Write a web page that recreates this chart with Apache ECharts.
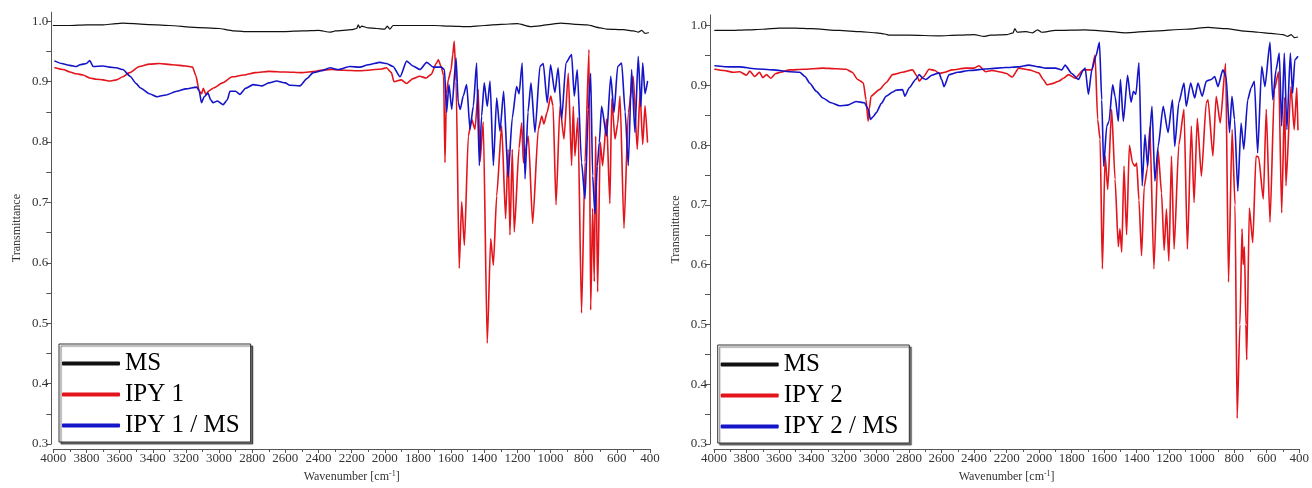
<!DOCTYPE html>
<html>
<head>
<meta charset="utf-8">
<script src="https://cdn.jsdelivr.net/npm/echarts@6/dist/echarts.min.js"></script>
<style>
html,body{margin:0;padding:0;background:#fff;}
#chart{width:1312px;height:488px;}
</style>
</head>
<body>
<div id="chart"></div>
<script>
// ---------------- DATA ----------------
const yTickValues = [0.3,0.4,0.5,0.6,0.7,0.8,0.9,1.0];
const yMinorValues = [0.3,0.35,0.4,0.45,0.5,0.55,0.6,0.65,0.7,0.75,0.8,0.85,0.9,0.95,1.0];

const leftNames = ['MS', 'IPY 1', 'IPY 1 / MS'];
const rightNames = ['MS', 'IPY 2', 'IPY 2 / MS'];

// Left panel: MS
const msLWn = [4000,3900,3800,3700,3620,3579,3450,3300,3150,3000,2930,2915,2850,2700,2600,2500,2400,2330,2312,2300,2200,2170,2160,2150,2140,2100,2050,2000,1985,1970,1950,1850,1700,1600,1500,1400,1300,1200,1120,1080,1000,940,850,780,700,660,560,500,470,450,430,410];
const msLT  = [0.993,0.993,0.994,0.994,0.996,0.997,0.995,0.993,0.990,0.988,0.985,0.984,0.983,0.983,0.983,0.984,0.985,0.982,0.983,0.984,0.986,0.988,0.994,0.989,0.992,0.989,0.988,0.987,0.992,0.987,0.993,0.993,0.993,0.992,0.991,0.993,0.995,0.996,0.991,0.992,0.995,0.997,0.995,0.994,0.989,0.987,0.986,0.984,0.982,0.985,0.980,0.981];

// Left panel: IPY 1
const ipy1Wn = [3990,3940,3900,3860,3820,3780,3740,3700,3660,3620,3580,3540,3480,3420,3360,3280,3200,3160,3140,3120,3105,3095,3080,3060,3030,2980,2920,2850,2780,2700,2600,2500,2420,2390,2320,2250,2150,2100,2020,1990,1960,1945,1900,1870,1830,1790,1750,1720,1690,1677,1660,1645,1637,1628,1617,1600,1590,1581,1570,1551,1536,1520,1496,1476,1456,1436,1426,1406,1382,1361,1345,1325,1295,1271,1256,1245,1231,1219,1190,1174,1164,1134,1108,1074,1053,1040,1020,999,985,967,943,919,893,873,863,853,835,813,792,768,758,746,736,728,716,700,686,662,642,631,611,595,581,557,531,501,477,460,444,430,415];
const ipy1T  = [0.923,0.920,0.916,0.913,0.911,0.906,0.904,0.903,0.901,0.903,0.908,0.915,0.925,0.929,0.930,0.928,0.926,0.924,0.910,0.885,0.880,0.889,0.879,0.885,0.890,0.898,0.908,0.911,0.915,0.917,0.916,0.915,0.917,0.919,0.920,0.919,0.918,0.919,0.921,0.923,0.915,0.900,0.903,0.897,0.905,0.909,0.906,0.912,0.930,0.936,0.925,0.910,0.766,0.880,0.903,0.920,0.945,0.967,0.900,0.591,0.701,0.629,0.810,0.838,0.821,0.887,0.767,0.833,0.467,0.640,0.596,0.711,0.827,0.673,0.788,0.646,0.788,0.651,0.790,0.832,0.766,0.810,0.665,0.821,0.843,0.830,0.850,0.876,0.860,0.696,0.859,0.805,0.914,0.761,0.859,0.777,0.840,0.517,0.767,0.953,0.522,0.690,0.569,0.810,0.552,0.800,0.761,0.838,0.698,0.871,0.805,0.830,0.876,0.657,0.849,0.909,0.788,0.882,0.796,0.860,0.800];

// Left panel: IPY 1 / MS
const ipy1msWn = [3990,3950,3900,3860,3840,3800,3780,3760,3700,3660,3620,3580,3537,3500,3477,3420,3375,3320,3255,3200,3135,3120,3106,3090,3067,3050,3036,3010,2975,2950,2934,2900,2874,2840,2794,2740,2700,2653,2600,2573,2512,2470,2432,2380,2331,2280,2210,2150,2100,2029,1990,1950,1908,1868,1830,1788,1747,1707,1660,1640,1627,1613,1596,1570,1557,1545,1527,1506,1486,1466,1446,1430,1416,1400,1382,1365,1345,1325,1305,1283,1256,1231,1205,1190,1171,1154,1136,1118,1094,1064,1044,1020,1000,974,954,933,907,873,857,839,813,792,772,758,746,732,718,706,692,662,637,617,595,571,550,531,511,491,471,455,444,430,415];
const ipy1msT  = [0.934,0.930,0.927,0.925,0.928,0.930,0.935,0.925,0.926,0.924,0.923,0.920,0.909,0.897,0.890,0.880,0.875,0.878,0.884,0.888,0.891,0.885,0.865,0.875,0.881,0.870,0.865,0.868,0.862,0.870,0.884,0.884,0.879,0.889,0.895,0.893,0.898,0.901,0.898,0.894,0.893,0.905,0.915,0.918,0.923,0.920,0.925,0.924,0.928,0.932,0.930,0.925,0.908,0.934,0.926,0.920,0.932,0.924,0.924,0.920,0.849,0.895,0.854,0.939,0.865,0.854,0.876,0.895,0.821,0.859,0.931,0.761,0.843,0.898,0.859,0.901,0.761,0.873,0.818,0.884,0.742,0.840,0.892,0.880,0.931,0.739,0.850,0.898,0.816,0.925,0.930,0.865,0.928,0.882,0.923,0.838,0.931,0.945,0.876,0.920,0.766,0.706,0.854,0.914,0.744,0.681,0.760,0.799,0.859,0.810,0.909,0.849,0.925,0.931,0.850,0.761,0.920,0.816,0.942,0.859,0.931,0.880,0.900];

// Right panel: MS
const msRWn = [3995,3900,3800,3700,3600,3500,3400,3228,3100,3000,2950,2920,2800,2616,2500,2400,2340,2300,2200,2160,2150,2135,2080,2040,2010,1985,1900,1716,1600,1470,1300,1102,961,850,735,650,575,500,471,450,430,410];
const msRT  = [0.992,0.992,0.993,0.994,0.996,0.996,0.995,0.992,0.990,0.988,0.986,0.984,0.984,0.983,0.984,0.985,0.982,0.984,0.985,0.988,0.995,0.989,0.990,0.988,0.993,0.989,0.992,0.993,0.991,0.988,0.991,0.994,0.997,0.995,0.991,0.989,0.987,0.985,0.982,0.985,0.980,0.981];

// Right panel: IPY 2
const ipy2Wn = [3994,3940,3880,3841,3800,3780,3750,3720,3700,3677,3650,3620,3590,3534,3450,3332,3250,3187,3150,3116,3081,3065,3052,3045,3034,2983,2940,2902,2840,2779,2750,2738,2710,2677,2640,2616,2580,2536,2452,2400,2370,2329,2290,2248,2200,2166,2125,2060,2003,1975,1952,1920,1880,1850,1819,1778,1727,1676,1656,1640,1625,1611,1594,1578,1554,1533,1513,1503,1492,1478,1462,1445,1425,1411,1400,1386,1370,1354,1335,1319,1294,1268,1247,1231,1217,1202,1186,1170,1141,1109,1088,1064,1047,1027,1002,972,961,931,911,886,853,835,813,795,782,765,752,745,737,728,723,707,686,666,650,621,603,580,553,527,508,490,482,451,431,415,408];
const ipy2T  = [0.927,0.925,0.922,0.923,0.917,0.924,0.915,0.922,0.913,0.918,0.912,0.920,0.922,0.926,0.927,0.929,0.928,0.927,0.922,0.910,0.904,0.876,0.840,0.860,0.882,0.893,0.905,0.918,0.922,0.926,0.915,0.907,0.915,0.927,0.925,0.920,0.922,0.926,0.929,0.929,0.933,0.923,0.925,0.923,0.920,0.914,0.929,0.926,0.921,0.910,0.901,0.903,0.907,0.912,0.918,0.912,0.926,0.926,0.951,0.843,0.810,0.593,0.782,0.726,0.860,0.743,0.630,0.660,0.621,0.765,0.650,0.800,0.770,0.765,0.770,0.708,0.615,0.730,0.760,0.830,0.593,0.790,0.720,0.624,0.693,0.606,0.782,0.626,0.800,0.860,0.626,0.832,0.704,0.845,0.748,0.871,0.876,0.782,0.882,0.837,0.937,0.571,0.826,0.700,0.343,0.500,0.660,0.600,0.630,0.500,0.441,0.695,0.637,0.782,0.780,0.710,0.860,0.671,0.893,0.923,0.687,0.880,0.732,0.898,0.826,0.896,0.826];

// Right panel: IPY 2 / MS
const ipy2msWn = [3994,3900,3841,3750,3637,3534,3473,3440,3412,3370,3330,3280,3228,3180,3126,3075,3050,3038,3020,3003,2970,2942,2900,2881,2840,2826,2799,2760,2738,2715,2697,2660,2616,2600,2585,2554,2500,2432,2309,2207,2130,2064,2000,1962,1900,1860,1840,1800,1758,1730,1717,1697,1676,1650,1629,1615,1603,1584,1570,1548,1533,1513,1500,1482,1456,1435,1420,1405,1386,1366,1349,1333,1306,1288,1268,1237,1207,1180,1166,1141,1109,1095,1068,1043,1023,997,972,941,920,900,870,850,829,814,798,778,758,741,717,696,676,656,631,611,580,563,543,523,508,492,476,455,441,427,410];
const ipy2msT  = [0.933,0.931,0.931,0.928,0.926,0.923,0.922,0.915,0.904,0.890,0.879,0.871,0.866,0.867,0.873,0.871,0.860,0.843,0.848,0.854,0.870,0.882,0.889,0.892,0.893,0.882,0.896,0.910,0.918,0.912,0.910,0.917,0.921,0.910,0.898,0.918,0.922,0.925,0.928,0.930,0.931,0.934,0.931,0.929,0.929,0.926,0.934,0.920,0.910,0.925,0.929,0.885,0.926,0.950,0.972,0.876,0.765,0.832,0.840,0.901,0.882,0.840,0.910,0.840,0.917,0.872,0.890,0.885,0.938,0.732,0.818,0.765,0.865,0.740,0.798,0.865,0.821,0.876,0.798,0.871,0.904,0.865,0.904,0.879,0.904,0.882,0.907,0.910,0.915,0.898,0.926,0.915,0.821,0.882,0.843,0.723,0.837,0.793,0.876,0.896,0.907,0.787,0.932,0.898,0.972,0.876,0.926,0.954,0.832,0.954,0.826,0.954,0.887,0.943,0.948];

// ---------------- CHART ----------------
function zip(xs, ys) { return xs.map((x, i) => [x, ys[i]]); }

const FONT = "'Liberation Serif', 'Times New Roman', serif";
const RED = '#e3141b';
const BLUE = '#1414c8';
const BLACK = '#111111';
const AXIS_COLOR = '#555555';
const LABEL_COLOR = '#333333';

function xAxisCfg(gridIndex) {
  return {
    type: 'value', gridIndex: gridIndex, min: 400, max: 4000, interval: 200, inverse: true,
    offset: 5,
    name: 'Wavenumber [cm{sup|-1}]', nameLocation: 'middle', nameGap: 21,
    nameTextStyle: { fontFamily: FONT, fontSize: 12, color: LABEL_COLOR,
      rich: { sup: { fontFamily: FONT, fontSize: 8, color: LABEL_COLOR, verticalAlign: 'top', padding: [0,0,6,0] } } },
    axisLine: { show: true, lineStyle: { color: AXIS_COLOR, width: 1 } },
    axisTick: { show: true, inside: false, length: 4, lineStyle: { color: AXIS_COLOR } },
    minorTick: { show: true, splitNumber: 2, length: 3, lineStyle: { color: AXIS_COLOR } },
    axisLabel: { fontFamily: FONT, fontSize: 13, color: LABEL_COLOR, margin: 3, showMinLabel: true, showMaxLabel: true, hideOverlap: false,
      formatter: v => String(v) },
    splitLine: { show: false }, minorSplitLine: { show: false }
  };
}
function yAxisCfg(gridIndex, max, offset) {
  return {
    type: 'value', gridIndex: gridIndex, min: 0.3, max: max, offset: offset,
    name: 'Transmittance', nameLocation: 'middle', nameGap: 28, nameRotate: 90,
    nameTextStyle: { fontFamily: FONT, fontSize: 12, color: LABEL_COLOR },
    axisLine: { show: true, lineStyle: { color: AXIS_COLOR, width: 1 } },
    axisTick: { show: true, inside: false, length: 5, customValues: yMinorValues, lineStyle: { color: AXIS_COLOR } },
    axisLabel: { fontFamily: FONT, fontSize: 13, color: LABEL_COLOR, margin: 3, customValues: yTickValues,
      formatter: v => v.toFixed(1) },
    splitLine: { show: false }
  };
}
function lineSeries(name, data, color, idx, width) {
  return {
    type: 'line', name: name, data: data, xAxisIndex: idx, yAxisIndex: idx,
    showSymbol: false, symbol: 'none', smooth: 0.2, smoothMonotone: 'x', animation: false,
    lineStyle: { color: color, width: width, join: 'round', cap: 'round' }, itemStyle: { color: color },
    emphasis: { disabled: true }
  };
}
function legendCfg(names, left, top) {
  return {
    show: true, orient: 'vertical', left: left, top: top, selectedMode: false,
    data: names, icon: 'roundRect', itemWidth: 58, itemHeight: 4, itemGap: 6,
    padding: [7, 11, 4, 3],
    textStyle: { fontFamily: FONT, fontSize: 25, color: '#000' },
    backgroundColor: '#fff', borderColor: '#333', borderWidth: 1,
    shadowColor: 'rgba(0,0,0,0.55)', shadowOffsetX: 2, shadowOffsetY: 2, shadowBlur: 1
  };
}

const chart = echarts.init(document.getElementById('chart'), null, { renderer: 'canvas' });
chart.setOption({
  backgroundColor: '#ffffff',
  animation: false,
  grid: [
    { left: 53.3, top: 12.2, width: 596.7, height: 434.5, containLabel: false },
    { left: 714, top: 14.9, width: 588, height: 430.8, containLabel: false }
  ],
  xAxis: [xAxisCfg(0), xAxisCfg(1)],
  yAxis: [yAxisCfg(0, 1.015, 2), yAxisCfg(1, 1.018, 4)],
  legend: [legendCfg(leftNames, 59, 344), legendCfg(rightNames, 717.7, 345)],
  series: [
    lineSeries(leftNames[0], zip(msLWn, msLT), BLACK, 0, 1.2),
    lineSeries(leftNames[1], zip(ipy1Wn, ipy1T), RED, 0, 1.6),
    lineSeries(leftNames[2], zip(ipy1msWn, ipy1msT), BLUE, 0, 1.6),
    lineSeries(rightNames[0], zip(msRWn, msRT), BLACK, 1, 1.2),
    lineSeries(rightNames[1], zip(ipy2Wn, ipy2T), RED, 1, 1.6),
    lineSeries(rightNames[2], zip(ipy2msWn, ipy2msT), BLUE, 1, 1.6)
  ]
});
</script>
</body>
</html>
